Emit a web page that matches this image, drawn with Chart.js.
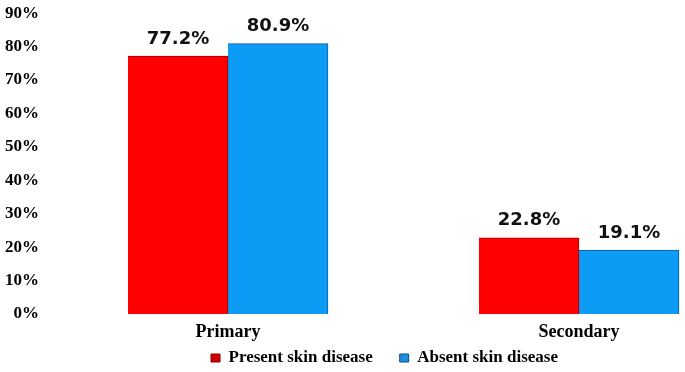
<!DOCTYPE html>
<html>
<head>
<meta charset="utf-8">
<script src="https://cdn.jsdelivr.net/npm/chart.js@4/dist/chart.umd.min.js"></script>
<style>
html,body{margin:0;padding:0;background:#fff;}
#wrap{width:685px;height:372px;position:relative;overflow:hidden;}
</style>
</head>
<body>
<div id="wrap"><canvas id="c" width="685" height="372"></canvas></div>
<script>
const categories = ["Primary", "Secondary"];
const seriesNames = ["Present skin disease", "Absent skin disease"];
const presentValues = [77.2, 22.8];
const absentValues = [80.9, 19.1];
const yTicks = [0, 10, 20, 30, 40, 50, 60, 70, 80, 90];

const toPoints = (arr) => arr.map((v, i) => ({x: i, y: v}));

function grad(ctx, c1, c2, c3) {
  const chart = ctx.chart;
  const el = ctx.element;
  if (!chart.chartArea || !el) return c2;
  const w = el.width;
  const x0 = el.x - w / 2, x1 = el.x + w / 2;
  if (!isFinite(x0) || !isFinite(x1) || x1 <= x0) return c2;
  const g = chart.ctx.createLinearGradient(x0, 0, x1, 0);
  g.addColorStop(0, c1);
  g.addColorStop(0.06, c2);
  g.addColorStop(0.92, c2);
  g.addColorStop(1, c3);
  return g;
}

const valueLabels = {
  id: 'valueLabels',
  afterDatasetsDraw(chart) {
    const ctx = chart.ctx;
    ctx.save();
    ctx.font = 'bold 18px "DejaVu Sans", Verdana, sans-serif';
    ctx.fillStyle = '#111';
    ctx.textAlign = 'center';
    ctx.textBaseline = 'bottom';
    chart.data.datasets.forEach((ds, i) => {
      chart.getDatasetMeta(i).data.forEach((bar, j) => {
        ctx.fillText(ds.data[j].y.toFixed(1) + '%', bar.x, bar.y - 8);
      });
    });
    ctx.restore();
  }
};

// shift the legend box (drawn by Chart.js) to its place in the reference
const legendShift = {
  id: 'legendShift',
  afterLayout(chart) {
    const lg = chart.legend;
    if (!lg) return;
    lg.left += 42; lg.right += 42;
    lg.top -= 18.5; lg.bottom -= 18.5;
  }
};

new Chart(document.getElementById('c'), {
  type: 'bar',
  data: {
    datasets: [
      {
        label: seriesNames[0],
        data: toPoints(presentValues),
        backgroundColor: (ctx) => grad(ctx, '#c00000', '#ff0000', '#900000'),
        borderColor: '#a00000',
        borderWidth: {left: 0, right: 1, top: 1, bottom: 1},
        barThickness: 100,
        clip: false
      },
      {
        label: seriesNames[1],
        data: toPoints(absentValues),
        backgroundColor: (ctx) => grad(ctx, '#0a80d0', '#0d9cf5', '#064a80'),
        borderColor: '#0a5a95',
        borderWidth: {left: 0, right: 1, top: 1, bottom: 1},
        barThickness: 100,
        clip: false
      }
    ]
  },
  options: {
    responsive: false,
    animation: false,
    layout: {padding: {left: 0, right: 0, top: 0, bottom: -23}},
    plugins: {
      legend: {
        position: 'bottom',
        labels: {
          font: {family: '"Liberation Serif", "Times New Roman", serif', weight: 'bold', size: 17},
          color: '#000',
          boxWidth: 9,
          boxHeight: 8,
          padding: 27,
          generateLabels(chart) {
            const cols = [['#d00000', '#800000'], ['#1a8fe0', '#0a4a80']];
            return chart.data.datasets.map((ds, i) => ({
              text: ds.label,
              fillStyle: cols[i][0],
              strokeStyle: cols[i][1],
              lineWidth: 1,
              datasetIndex: i,
              hidden: false
            }));
          }
        }
      },
      tooltip: {enabled: false}
    },
    scales: {
      x: {
        type: 'linear',
        min: -186 / 351,
        max: 1 + 106 / 351,
        offset: false,
        grid: {display: false, drawTicks: false},
        border: {display: false},
        afterBuildTicks(scale) { scale.ticks = categories.map((c, i) => ({value: i})); },
        afterFit(scale) { scale.height = 27; },
        ticks: {
          color: '#000',
          padding: 9,
          maxRotation: 0,
          autoSkip: false,
          callback: (v) => categories[Math.round(v)],
          font: {family: '"Liberation Serif", "Times New Roman", serif', weight: 'bold', size: 18, lineHeight: 1}
        }
      },
      y: {
        min: 0,
        max: 90,
        grid: {display: false, drawTicks: false},
        border: {display: false},
        afterFit(scale) { scale.width = 42; },
        afterBuildTicks(scale) { scale.ticks = yTicks.map(v => ({value: v})); },
        ticks: {
          color: '#000',
          padding: 3,
          callback: (v) => v + '%',
          font: {family: '"Liberation Serif", "Times New Roman", serif', weight: 'bold', size: 17}
        }
      }
    }
  },
  plugins: [valueLabels, legendShift]
});
</script>
</body>
</html>
